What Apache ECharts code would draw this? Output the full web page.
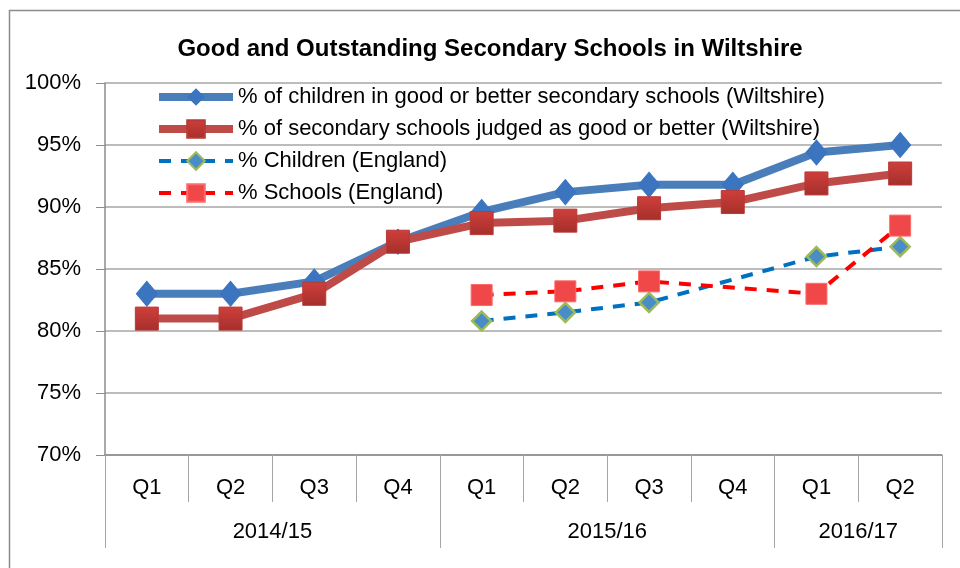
<!DOCTYPE html>
<html>
<head>
<meta charset="utf-8">
<script src="https://cdn.jsdelivr.net/npm/echarts@6/dist/echarts.min.js"></script>
<style>
  html, body { margin: 0; padding: 0; background: #fff; }
  #chart { width: 960px; height: 568px; }
</style>
</head>
<body>
<div id="chart"></div>
<script>
// quarters on the x axis, financial years underneath
var quarters = ['Q1', 'Q2', 'Q3', 'Q4', 'Q1', 'Q2', 'Q3', 'Q4', 'Q1', 'Q2'];
var years = ['2014/15', '2015/16', '2016/17'];
var yearSpans = [4, 4, 2];

// values (%)
var childrenWilts = [83.0, 83.0, 84.0, 87.2, 89.6, 91.2, 91.8, 91.8, 94.4, 95.0];
var schoolsWilts  = [81.0, 81.0, 83.0, 87.2, 88.7, 88.9, 89.9, 90.4, 91.9, 92.7];
var childrenEng   = [null, null, null, null, 80.8, 81.5, 82.3, null, 86.0, 86.8];
var schoolsEng    = [null, null, null, null, 82.9, 83.2, 84.0, null, 83.0, 88.5];

var seriesNames = [
  '% of children in good or better secondary schools (Wiltshire)',
  '% of secondary schools judged as good or better (Wiltshire)',
  '% Children (England)',
  '% Schools (England)'
];

// group boundaries and label centres for the year row
var yearTicks = [0], yearMids = [], acc = 0;
yearSpans.forEach(function (s) {
  yearMids.push(acc + s / 2);
  acc += s;
  yearTicks.push(acc);
});

var FONT = '"Liberation Sans", Arial, sans-serif';
var chart = echarts.init(document.getElementById('chart'));

chart.setOption({
  animation: false,
  textStyle: { fontFamily: FONT },
  graphic: [{
    type: 'rect',
    shape: { x: 9.5, y: 10.5, width: 1000, height: 600 },
    style: { fill: 'none', stroke: '#8c8c8c', lineWidth: 1.5 },
    silent: true
  }],
  title: {
    text: 'Good and Outstanding Secondary Schools in Wiltshire',
    left: 485,
    top: 32,
    textAlign: 'center',
    textStyle: { fontFamily: FONT, fontSize: 24, fontWeight: 'bold', color: '#000' }
  },
  legend: {
    orient: 'vertical',
    left: 150,
    top: 81,
    itemWidth: 74,
    itemHeight: 22,
    itemGap: 10,
    lineStyle: { width: 'inherit' },
    textStyle: { fontFamily: FONT, fontSize: 22, color: '#000' },
    data: seriesNames
  },
  grid: { left: 105, right: 18, top: 83, bottom: 113, containLabel: false },
  xAxis: [
    {
      type: 'category',
      data: quarters,
      boundaryGap: true,
      axisLine: { lineStyle: { color: '#8c8c8c', width: 1.5 } },
      axisTick: { show: true, length: 47, lineStyle: { color: '#a6a6a6' } },
      axisLabel: { margin: 22, fontFamily: FONT, fontSize: 22, color: '#000' }
    },
    {
      type: 'value',
      position: 'bottom',
      min: 0,
      max: quarters.length,
      axisLine: { show: false },
      splitLine: { show: false },
      axisTick: {
        show: true,
        length: 93,
        customValues: yearTicks,
        lineStyle: { color: '#a6a6a6' }
      },
      axisLabel: {
        margin: 66,
        customValues: yearMids,
        fontFamily: FONT,
        fontSize: 22,
        color: '#000',
        formatter: function (v) {
          var i = yearMids.indexOf(v);
          return i >= 0 ? years[i] : '';
        }
      }
    }
  ],
  yAxis: {
    type: 'value',
    min: 70,
    max: 100,
    interval: 5,
    axisLine: { show: true, lineStyle: { color: '#8c8c8c', width: 1.5 } },
    axisTick: { show: true, length: 9, lineStyle: { color: '#8c8c8c' } },
    axisLabel: { margin: 24, fontFamily: FONT, fontSize: 22, color: '#000', formatter: '{value}%' },
    splitLine: { lineStyle: { color: '#a6a6a6', width: 1.5 } }
  },
  series: [
    {
      name: seriesNames[0],
      type: 'line',
      data: childrenWilts,
      symbol: 'diamond',
      symbolSize: [21, 25],
      lineStyle: { color: '#4a7ebb', width: 8 },
      itemStyle: { color: '#3b74bf', borderColor: '#3b74bf' },
      z: 3
    },
    {
      name: seriesNames[1],
      type: 'line',
      data: schoolsWilts,
      symbol: 'rect',
      symbolSize: 23,
      lineStyle: { color: '#be4b48', width: 8 },
      itemStyle: {
        color: new echarts.graphic.LinearGradient(0, 0, 0, 1, [
          { offset: 0, color: '#cf3f3b' },
          { offset: 1, color: '#a52f2b' }
        ]),
        borderColor: '#b83a36',
        borderWidth: 1
      },
      z: 4
    },
    {
      name: seriesNames[2],
      type: 'line',
      data: childrenEng,
      connectNulls: true,
      symbol: 'diamond',
      symbolSize: 19,
      lineStyle: { color: '#0070c0', width: 4, type: [12, 10] },
      itemStyle: { color: '#4a8cc8', borderColor: '#9bbb59', borderWidth: 2.5 },
      z: 5
    },
    {
      name: seriesNames[3],
      type: 'line',
      data: schoolsEng,
      connectNulls: true,
      symbol: 'rect',
      symbolSize: 21,
      lineStyle: { color: '#ff0000', width: 4, type: [12, 10] },
      itemStyle: { color: '#f04848', borderColor: '#ff6a6a', borderWidth: 1 },
      z: 6
    }
  ]
});
</script>
</body>
</html>
